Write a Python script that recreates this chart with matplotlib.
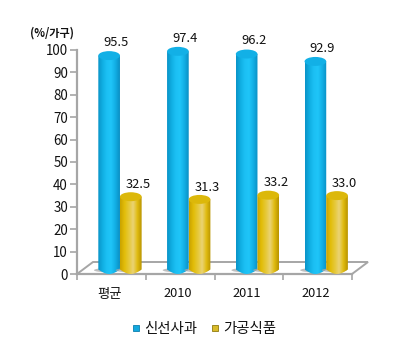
import numpy as np
import matplotlib
matplotlib.use("Agg")
import matplotlib.pyplot as plt
from matplotlib.colors import LinearSegmentedColormap
from matplotlib.patches import Ellipse, Polygon
from matplotlib.lines import Line2D

plt.rcParams['font.family'] = ['Noto Sans CJK KR', 'DejaVu Sans']

categories = ['평균', '2010', '2011', '2012']
fresh = [95.5, 97.4, 96.2, 92.9]
processed = [32.5, 31.3, 33.2, 33.0]
yticks = [0, 10, 20, 30, 40, 50, 60, 70, 80, 90, 100]
legend_names = ['신선사과', '가공식품']
unit_label = '(%/가구)'

W, H = 400, 361
fig = plt.figure(figsize=(W/100, H/100), dpi=100, facecolor='white')
L, R, T, B = 77, 352, 50, 274
ax = fig.add_axes([L/W, 1-B/H, (R-L)/W, (B-T)/H])
ax.patch.set_alpha(0)
for s in ('top', 'right'):
    ax.spines[s].set_visible(False)
for s in ('left', 'bottom'):
    ax.spines[s].set_color('#a6a6a6')
    ax.spines[s].set_linewidth(1.6)
ax.set_xticks([0, 1, 2, 3, 4])
ax.set_xticklabels([])
ax.set_yticks(yticks)
ax.tick_params(axis='y', length=5, width=1.2, color='#a6a6a6', labelsize=9.6, pad=1.5, labelcolor='#111111')
ax.tick_params(axis='x', length=4, width=1.2, color='#a6a6a6', direction='out')

dx = 16/68.75
dz = 12/2.24
floor = Polygon([(0, 0), (4, 0), (4+dx, dz), (dx, dz)], closed=True, facecolor='white',
                edgecolor='#a6a6a6', lw=1.4, clip_on=False, zorder=1)
ax.add_patch(floor)

blue = LinearSegmentedColormap.from_list('b', ['#0a93c8', '#10aee2', '#1cc0f4', '#1fc5f8', '#12aee4', '#0a8fc4'])
gold = LinearSegmentedColormap.from_list('g', ['#c9a300', '#e2bd08', '#e6c838', '#ead374', '#e0bb10', '#b89400'])

bw = 0.315
base = 2.0
ry = 2.0

def cylinder(xc, val, cmap, top, z):
    x0, x1 = xc-bw/2, xc+bw/2
    y1 = val + base
    ax.add_patch(Ellipse((xc-0.04, base-0.3), bw*1.15, ry*0.9, fc='#a8a8a8', ec='none', alpha=0.75,
                         zorder=z-0.5, clip_on=False))
    grad = np.linspace(0, 1, 64)[None, :]
    im = ax.imshow(grad, extent=(x0, x1, base-ry, y1), cmap=cmap, aspect='auto', zorder=z)
    verts = np.vstack([
        np.column_stack([x0+bw*np.linspace(0, 1, 40), base-ry*np.sin(np.linspace(0, np.pi, 40))]),
        [[x1, y1], [x0, y1]],
    ])
    im.set_clip_path(Polygon(verts, closed=True, transform=ax.transData))
    ax.add_patch(Ellipse((xc, y1), bw, ry*2, fc=top, ec='none', zorder=z+0.1, clip_on=False))

centers = np.arange(4) + 0.625
off = bw/2
for i, c in enumerate(centers):
    cylinder(c-off, fresh[i], blue, '#12b0e6', 3+i*2)
    cylinder(c+off, processed[i], gold, '#dcb80a', 4+i*2)
    ax.text(c-off+0.1, fresh[i]+base+3.0, f'{fresh[i]:.1f}', ha='center', va='bottom', fontsize=9.3,
            color='#111111', clip_on=False, zorder=20)
    ax.text(c+off+0.11, processed[i]+base+2.6, f'{processed[i]:.1f}', ha='center', va='bottom', fontsize=9.3,
            color='#111111', clip_on=False, zorder=20)
    ax.text(i+0.5-0.03, -5.6, categories[i], ha='center', va='top', fontsize=9.6 if i == 0 else 9.2,
            color='#111111', clip_on=False)

ax.set_ylim(0, 100)
ax.set_xlim(0, 4)

fig.text(52/W, 1-33/H, unit_label, ha='center', va='center', fontsize=8, fontweight='bold', color='#111111')

handles = [Line2D([], [], ls='none', marker='s', ms=5, mfc='#12a8de', mec='#0c7fae', mew=0.6),
           Line2D([], [], ls='none', marker='s', ms=5, mfc='#d9bb2a', mec='#8f7a10', mew=0.6)]
fig.legend(handles, legend_names, loc='center', bbox_to_anchor=(204/W, 1-329/H), ncol=2, frameon=False,
           fontsize=10.4, handlelength=0.6, handletextpad=0.3, columnspacing=0.9, labelcolor='#111111')

fig.savefig('out.png', dpi=100)
